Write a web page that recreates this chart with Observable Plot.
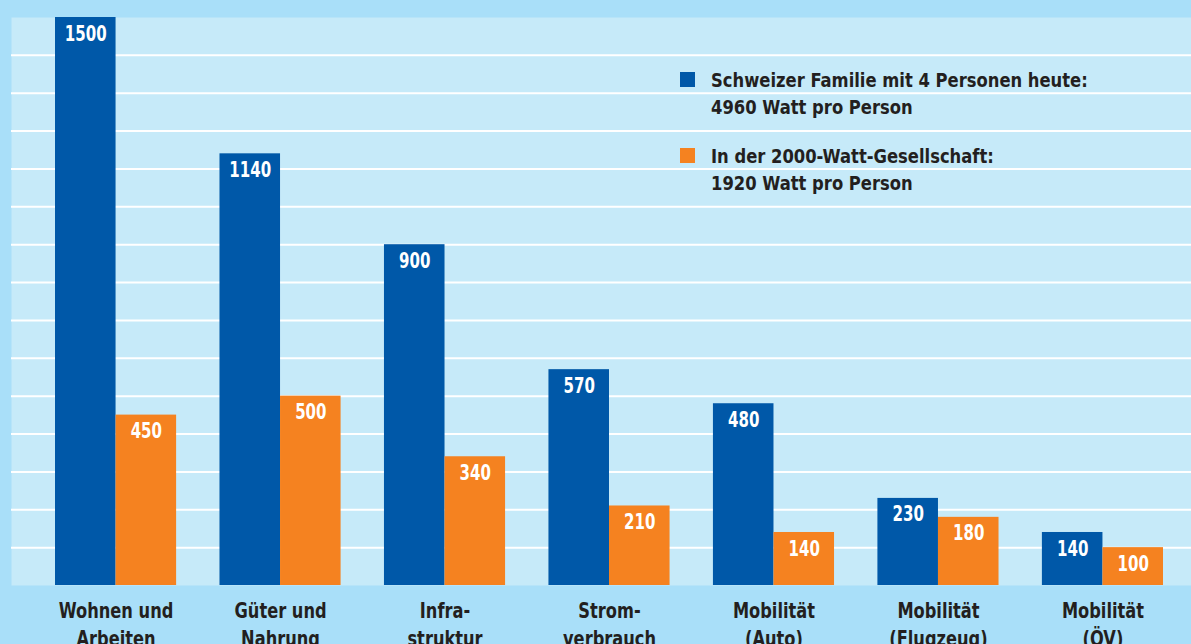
<!DOCTYPE html>
<html>
<head>
<meta charset="utf-8">
<script src="https://cdn.jsdelivr.net/npm/d3@7"></script>
<script src="https://cdn.jsdelivr.net/npm/@observablehq/plot@0.6"></script>
<style>
  html, body { margin: 0; padding: 0; background: #a9dff9; }
  #wrap { position: relative; width: 1191px; height: 644px; overflow: hidden; }
  .legend { position: absolute; left: 680px; font-family: "DejaVu Sans Condensed", "DejaVu Sans", sans-serif; font-stretch: condensed; font-weight: bold; font-size: 20px; color: #231f20; line-height: 27px; }
  .legend .item { position: relative; padding-left: 31px; margin-bottom: 22px; }
  .legend .sw { position: absolute; left: 0; top: 5px; width: 15px; height: 15px; }
  .legend .txt { transform: scaleX(0.91); transform-origin: left top; white-space: nowrap; }
</style>
</head>
<body>
<div id="wrap"></div>
<script>
const categories = ["Wohnen und\nArbeiten", "Güter und\nNahrung", "Infra-\nstruktur", "Strom-\nverbrauch", "Mobilität\n(Auto)", "Mobilität\n(Flugzeug)", "Mobilität\n(ÖV)"];
const heute = [1500, 1140, 900, 570, 480, 230, 140];
const ziel = [450, 500, 340, 210, 140, 180, 100];
const seriesLines = [
  ["Schweizer Familie mit 4 Personen heute:", "4960 Watt pro Person"],
  ["In der 2000-Watt-Gesellschaft:", "1920 Watt pro Person"]
];
const gridTicks = [100, 200, 300, 400, 500, 600, 700, 800, 900, 1000, 1100, 1200, 1300, 1400];

const colors = ["#0058a8", "#f58220"];
const font = '"DejaVu Sans Condensed", "DejaVu Sans", sans-serif';

const data = categories.map((c, i) => ({cat: c, heute: heute[i], ziel: ziel[i]}));

const xRange = [55, 1163];
const padInner = 0.2637;
const step = (xRange[1] - xRange[0]) / (categories.length - padInner);
const bw = step * (1 - padInner);
const half = bw / 2;
const quarter = bw / 4;

const chart = Plot.plot({
  width: 1191,
  height: 644,
  marginTop: 17,
  marginBottom: 59,
  marginLeft: 11,
  marginRight: 0,
  x: {domain: categories, range: xRange, paddingInner: padInner, paddingOuter: 0, round: false, axis: null},
  y: {domain: [0, 1500], axis: null},
  style: {background: "#a9dff9", fontFamily: font},
  marks: [
    Plot.frame({fill: "#c6eaf9", stroke: null}),
    Plot.ruleY(gridTicks, {stroke: "white", strokeWidth: 2}),
    Plot.barY(data, {x: "cat", y: "heute", fill: colors[0], insetRight: half}),
    Plot.barY(data, {x: "cat", y: "ziel", fill: colors[1], insetLeft: half}),
    Plot.text(data, {x: "cat", y: "heute", text: d => String(d.heute), dx: -quarter, dy: 16, fill: "white", fontSize: 22, fontWeight: "bold", lineAnchor: "middle"}),
    Plot.text(data, {x: "cat", y: "ziel", text: d => String(d.ziel), dx: quarter, dy: 16, fill: "white", fontSize: 22, fontWeight: "bold", lineAnchor: "middle"}),
    Plot.text(categories, {x: d => d, text: d => d, frameAnchor: "bottom", lineAnchor: "top", dy: 12, fontSize: 21, fontWeight: "bold", fill: "#231f20", lineHeight: 1.35})
  ]
});

const wrap = document.getElementById("wrap");
wrap.appendChild(chart);

// condense the text horizontally (reference uses a condensed grotesque)
const textGroups = chart.querySelectorAll('g[aria-label="text"]');
textGroups.forEach((g, gi) => {
  const s = gi < 2 ? 0.76 : 0.86;
  g.querySelectorAll("text").forEach(t => {
    let tr = t.getAttribute("transform") || "";
    const x = t.getAttribute("x");
    if (x !== null && !isNaN(+x)) {
      tr = `${tr} translate(${+x},0)`;
      t.removeAttribute("x");
    }
    t.setAttribute("transform", `${tr} scale(${s},1)`);
  });
});

const legend = document.createElement("div");
legend.className = "legend";
legend.style.top = "67px";
seriesLines.forEach((lines, i) => {
  const item = document.createElement("div");
  item.className = "item";
  const sw = document.createElement("span");
  sw.className = "sw";
  sw.style.background = colors[i];
  item.appendChild(sw);
  const txt = document.createElement("div");
  txt.className = "txt";
  lines.forEach(l => {
    const d = document.createElement("div");
    d.textContent = l;
    txt.appendChild(d);
  });
  item.appendChild(txt);
  legend.appendChild(item);
});
wrap.appendChild(legend);
</script>
</body>
</html>
